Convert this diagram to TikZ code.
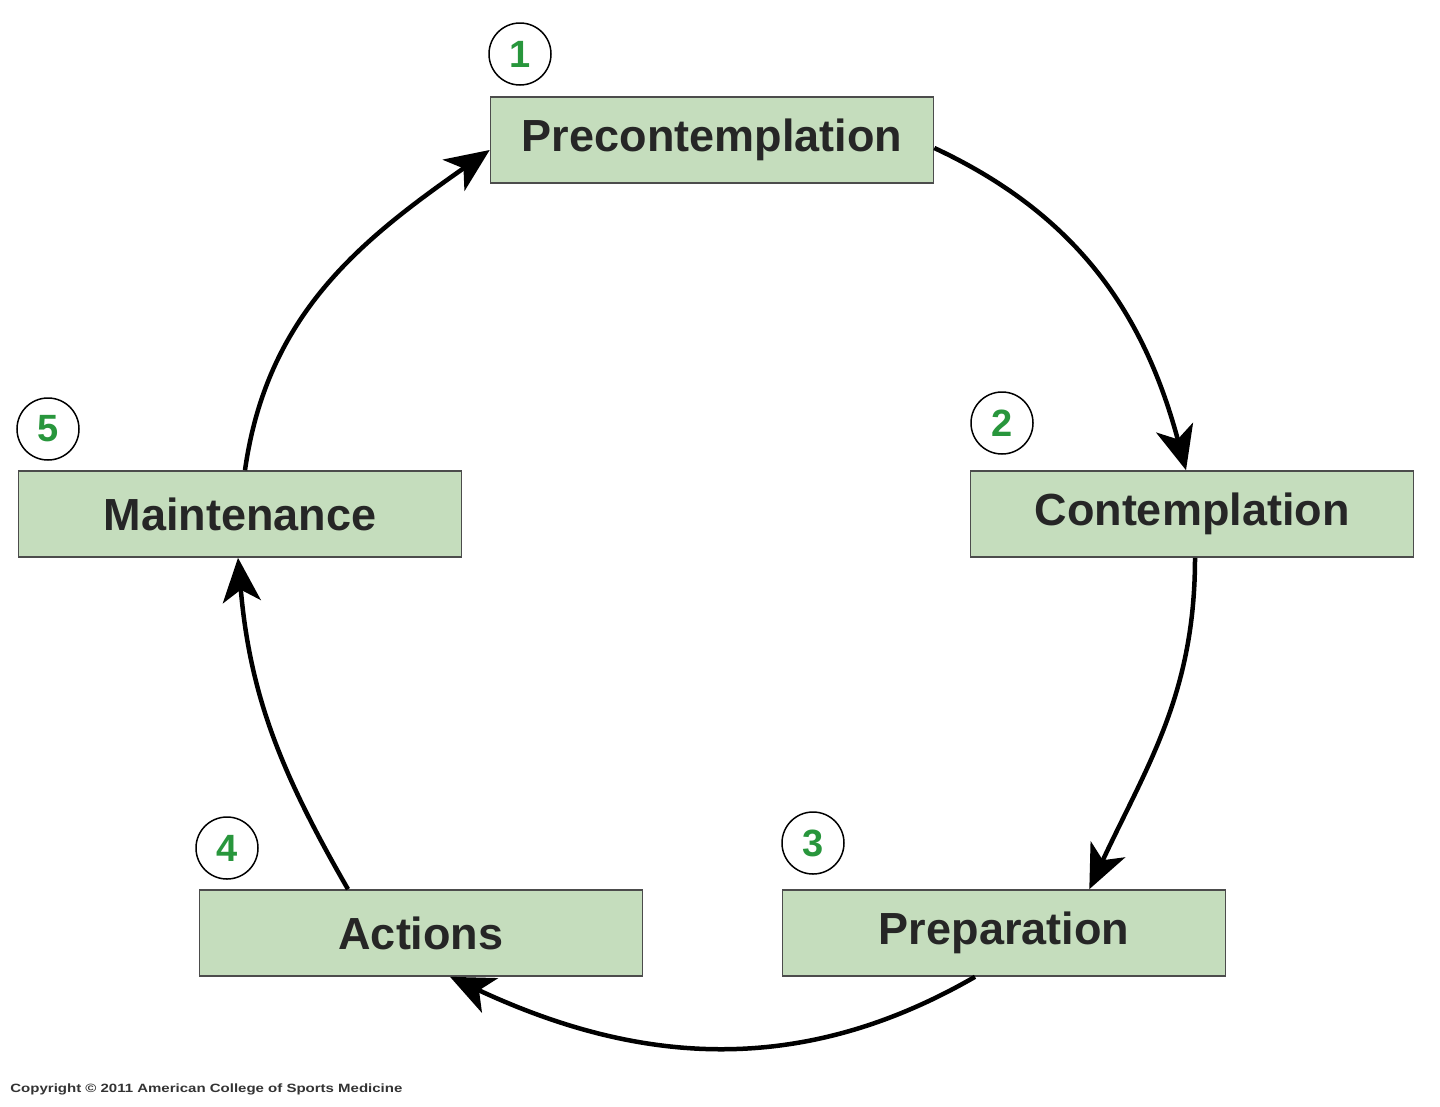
\documentclass[tikz,border=0pt]{standalone}
\usepackage{fontspec}
\setmainfont{Liberation Sans}
\usetikzlibrary{arrows.meta}
\definecolor{boxfill}{RGB}{197,221,189}
\definecolor{numgreen}{RGB}{40,150,60}
\begin{document}
\begin{tikzpicture}[x=1pt,y=1pt,
  stage/.style={draw=black!70,line width=1.6pt,fill=boxfill,minimum width=443pt,minimum height=86pt,inner sep=0pt,font=\fontsize{45}{50}\selectfont\bfseries,text=black!85},
  num/.style={circle,draw=black,line width=1.5pt,fill=white,minimum size=62pt,inner sep=0pt,font=\fontsize{38}{44}\selectfont\bfseries,text=numgreen},
  arr/.style={line width=4.5pt,-{Stealth[length=44pt,width=38pt,inset=12pt]}}]
\useasboundingbox (0,0) rectangle (1440,-1106);
\node[stage] (pre) at (712,-140) {Precontemplation};
\node[stage] (con) at (1192,-514) {Contemplation};
\node[stage] (mai) at (240,-514) {Maintenance};
\node[stage] (act) at (421,-933) {Actions};
\node[stage] (prep) at (1004,-933) {Preparation};
\node[num] (n1) at (520,-54) {1};
\node[num] (n2) at (1002,-423) {2};
\node[num] (n5) at (48,-429) {5};
\node[num] (n4) at (227,-848) {4};
\node[num] (n3) at (813,-843) {3};
\draw[arr] ([yshift=-8pt]pre.east) to[out=-25,in=105] ([xshift=-6pt]con.north);
\draw[arr] ([xshift=3pt]con.south) to[out=-90,in=65] ([xshift=-137pt]prep.north east);
\draw[arr] ([xshift=-29pt]prep.south) to[out=-150,in=-25] ([xshift=29pt]act.south);
\draw[arr] ([xshift=-73pt]act.north) to[out=120,in=-85] ([xshift=-2pt]mai.south);
\draw[arr] ([xshift=5pt]mai.north) to[out=82,in=-145] ([yshift=-10pt]pre.west);
\node[anchor=west,font=\fontsize{12}{14}\selectfont\bfseries,text=black!80,xscale=1.25] (copy) at (6,-1089) {Copyright © 2011 American College of Sports Medicine};
\end{tikzpicture}
\end{document}
